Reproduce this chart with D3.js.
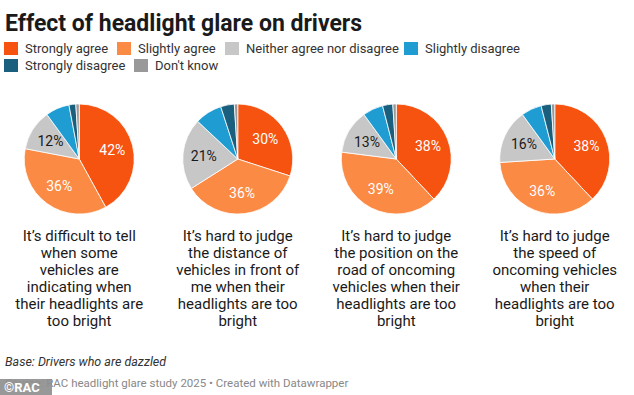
<!DOCTYPE html>
<html>
<head>
<meta charset="utf-8">
<script src="https://cdn.jsdelivr.net/npm/d3@7"></script>
<style>
	body { margin: 0; background: #fff; }
	svg text { font-family: Roboto, "Noto Sans", sans-serif; }
</style>
</head>
<body>
<svg id="chart" width="634" height="395"></svg>
<script>
var categories = ["Strongly agree", "Slightly agree", "Neither agree nor disagree", "Slightly disagree", "Strongly disagree", "Don't know"]
var colors = ["#f5530f", "#fb8a45", "#c7c7c7", "#1f9dd2", "#1a5f7e", "#999999"]
var questions = [
	["It\u2019s difficult to tell", "when some", "vehicles are", "indicating when", "their headlights are", "too bright"],
	["It\u2019s hard to judge", "the distance of", "vehicles in front of", "me when their", "headlights are too", "bright"],
	["It\u2019s hard to judge", "the position on the", "road of oncoming", "vehicles when their", "headlights are too", "bright"],
	["It\u2019s hard to judge", "the speed of", "oncoming vehicles", "when their", "headlights are too", "bright"]
]
var difficultToTell = [42, 36, 12, 7, 2, 1]
var distanceInFront = [30, 36, 21, 8, 4, 1]
var positionOnRoad = [38, 39, 13, 6, 3, 1]
var speedOncoming = [38, 36, 16, 6, 3, 1]
var series = [difficultToTell, distanceInFront, positionOnRoad, speedOncoming]

var svg = d3.select("#chart"),
	width = 634,
	radius = 55,
	pieY = 159;

var color = d3.scaleOrdinal().domain(categories).range(colors)
var col = d3.scaleBand().domain(d3.range(questions.length)).range([0, width])

svg.append("text")
	.text("Effect of headlight glare on drivers")
	.attr("x", 5)
	.attr("y", 31)
	.style("font-size", "23px")
	.style("font-weight", "700")
	.style("fill", "#1a1a1a")

// legend, two rows
var legendPos = [[4, 0], [117, 0], [225, 0], [404, 0], [4, 1], [134, 1]]
var legend = svg.append("g").selectAll("g")
	.data(categories)
	.enter()
	.append("g")
	.attr("transform", function (d, i) {
		return "translate(" + legendPos[i][0] + "," + (42 + legendPos[i][1] * 17) + ")"
	})
legend.append("rect")
	.attr("width", 14)
	.attr("height", 13)
	.style("fill", function (d) { return color(d) })
legend.append("text")
	.text(function (d) { return d })
	.attr("x", 21)
	.attr("y", 11)
	.style("font-size", "13px")
	.style("fill", "#333")

var pie = d3.pie().sort(null).value(function (d) { return d.v })
var arc = d3.arc().innerRadius(0).outerRadius(radius)
var labelArc = d3.arc().innerRadius(radius * 0.62).outerRadius(radius * 0.62)

series.forEach(function (vals, qi) {
	var cx = col(qi) + col.bandwidth() / 2
	var data = vals.map(function (v, i) { return { k: categories[i], v: v } })
	var g = svg.append("g").attr("transform", "translate(" + cx + "," + pieY + ")")

	g.selectAll("path")
		.data(pie(data))
		.enter()
		.append("path")
		.attr("d", arc)
		.style("fill", function (d) { return color(d.data.k) })
		.style("stroke", "#fff")
		.style("stroke-width", 0.8)

	g.selectAll(".label")
		.data(pie(data).filter(function (d) { return d.data.v >= 10 }))
		.enter()
		.append("text")
		.attr("class", "label")
		.text(function (d) { return d.data.v + "%" })
		.attr("transform", function (d) { return "translate(" + labelArc.centroid(d) + ")" })
		.attr("text-anchor", "middle")
		.attr("dy", "0.35em")
		.style("font-size", "14px")
		.style("fill", function (d) { return d.data.k == "Neither agree nor disagree" ? "#1a1a1a" : "#fff" })

	svg.append("text")
		.attr("text-anchor", "middle")
		.style("font-size", "15px")
		.style("fill", "#1a1a1a")
		.selectAll("tspan")
		.data(questions[qi])
		.enter()
		.append("tspan")
		.attr("x", cx)
		.attr("y", function (d, i) { return 241 + i * 17 })
		.text(function (d) { return d })
})

svg.append("text")
	.text("Base: Drivers who are dazzled")
	.attr("x", 5)
	.attr("y", 366)
	.style("font-size", "12.5px")
	.style("font-style", "italic")
	.style("fill", "#333")

svg.append("text")
	.text("Source: RAC headlight glare study 2025 \u2022 Created with Datawrapper")
	.attr("x", 5)
	.attr("y", 387)
	.style("font-size", "11.5px")
	.style("fill", "#888")

// watermark badge sits over the start of the source line, as in the original
var badge = svg.append("g").attr("transform", "translate(0,379)")
badge.append("rect")
	.attr("width", 52)
	.attr("height", 16)
	.style("fill", "#8f8f8f")
	.style("opacity", 0.92)
badge.append("text")
	.text("\u00a9RAC")
	.attr("x", 4)
	.attr("y", 13)
	.style("font-size", "13px")
	.style("font-weight", "700")
	.style("fill", "#fff")
</script>
</body>
</html>
